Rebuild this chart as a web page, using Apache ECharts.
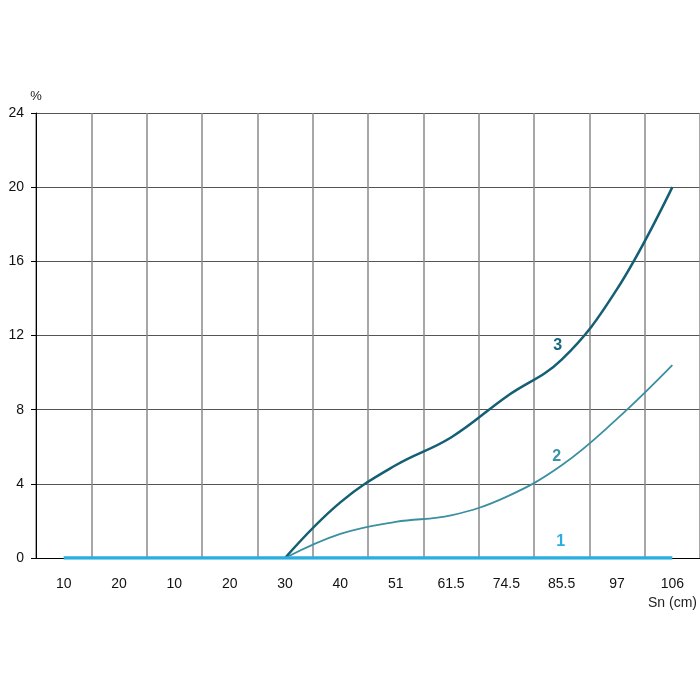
<!DOCTYPE html>
<html>
<head>
<meta charset="utf-8">
<script src="https://cdn.jsdelivr.net/npm/echarts@6/dist/echarts.min.js"></script>
<style>
  html, body { margin: 0; padding: 0; background: #fff; }
  #main { width: 700px; height: 700px; }
</style>
</head>
<body>
<div id="main"></div>
<script>
// x categories (Sn, cm) as printed on the axis
var categories = ['10', '20', '10', '20', '30', '40', '51', '61.5', '74.5', '85.5', '97', '106'];
// curve 1 lies on zero over the whole range
var curve1 = [0, 0, 0, 0, 0, 0, 0, 0, 0, 0, 0, 0];
var curve2 = ['-', '-', '-', '-', 0, 1.3, 1.95, 2.3, 3.3, 5.0, 7.5, 10.4];
var curve3 = ['-', '-', '-', '-', 0, 3.0, 5.0, 6.5, 8.7, 10.7, 14.5, 20];
var yTicks = [0, 24, 4]; // min, max, step

var labelIndex = 9;

function withLabel(values, text, color, offset) {
    return values.map(function (v, i) {
        if (i !== labelIndex) return v;
        return {
            value: v,
            label: {
                show: true, formatter: text, position: 'top', offset: offset,
                color: color, fontSize: 16, fontWeight: 'bold'
            }
        };
    });
}

var myChart = echarts.init(document.getElementById('main'));
myChart.setOption({
    backgroundColor: '#fff',
    animation: false,
    textStyle: { fontFamily: 'Liberation Sans, Arial, sans-serif' },
    grid: { left: 36, right: 0, top: 113, bottom: 142 },
    xAxis: {
        type: 'category',
        data: categories,
        boundaryGap: true,
        name: 'Sn (cm)',
        nameLocation: 'end',
        nameGap: 0,
        nameTextStyle: { color: '#222', fontSize: 14, align: 'right', verticalAlign: 'top', padding: [38, 3, 0, 0] },
        axisLine: { lineStyle: { color: '#000', width: 1 } },
        axisTick: { alignWithLabel: true, length: 7, lineStyle: { color: '#999', width: 2 } },
        axisLabel: { color: '#111', fontSize: 14, margin: 19 },
        splitLine: { show: true, lineStyle: { color: '#8a8a8a', width: 1.5 } }
    },
    yAxis: {
        type: 'value',
        min: yTicks[0], max: yTicks[1], interval: yTicks[2],
        name: '%',
        nameGap: 10,
        nameTextStyle: { color: '#222', fontSize: 13, align: 'center' },
        axisLine: { show: true, lineStyle: { color: '#000', width: 1 } },
        axisTick: { show: true, length: 5, lineStyle: { color: '#000' } },
        axisLabel: { color: '#111', fontSize: 14, margin: 12 },
        splitLine: { lineStyle: { color: '#555', width: 1 } }
    },
    series: [
        {
            name: '1', type: 'line', data: withLabel(curve1, '1', '#2aaee0', [-1, -3]),
            symbol: 'circle', symbolSize: 0, showSymbol: true, showAllSymbol: true, z: 5,
            lineStyle: { color: '#2aaee0', width: 3.5 }
        },
        {
            name: '2', type: 'line', data: withLabel(curve2, '2', '#3a93a6', [-5, 4]),
            symbol: 'circle', symbolSize: 0, showSymbol: true, showAllSymbol: true, smooth: 0.4,
            lineStyle: { color: '#3a8fa0', width: 1.8 }
        },
        {
            name: '3', type: 'line', data: withLabel(curve3, '3', '#17667c', [-4, -1]),
            symbol: 'circle', symbolSize: 0, showSymbol: true, showAllSymbol: true, smooth: 0.4,
            lineStyle: { color: '#145f74', width: 2.5 }
        }
    ]
});
</script>
</body>
</html>
